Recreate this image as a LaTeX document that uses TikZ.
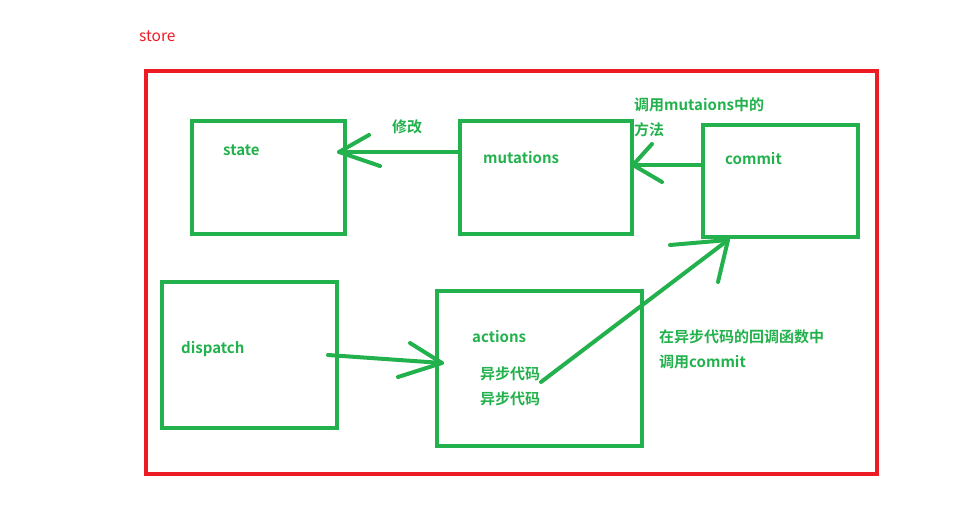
\documentclass[tikz,border=0pt]{standalone}
\usepackage{fontspec}
\setmainfont{Noto Sans CJK SC}[BoldFont={Noto Sans CJK SC Bold}]
\definecolor{gr}{RGB}{34,177,76}
\definecolor{rd}{RGB}{237,28,36}
\begin{document}
\begin{tikzpicture}[x=1pt,y=-1pt,
  box/.style={draw=gr,line width=4pt,rectangle,inner sep=0pt,outer sep=0pt},
  lbl/.style={anchor=west,inner sep=0pt,text=gr,font=\fontsize{15}{16}\selectfont\bfseries},
  conn/.style={draw=gr,line width=4pt,line cap=round,line join=round}]
\useasboundingbox (0,0) rectangle (957,524);
\node[box,draw=rd,minimum width=731pt,minimum height=403pt] (store) at (511.5,272.5) {};
\node[anchor=west,inner sep=0pt,text=rd,font=\fontsize{15.5}{17}\selectfont] (storet) at (139,36) {store};
\node[box,minimum width=153pt,minimum height=113pt] (state) at (268.5,177.5) {};
\node[box,minimum width=172pt,minimum height=113pt] (mut) at (546,177.5) {};
\node[box,minimum width=155pt,minimum height=112pt] (commit) at (780.5,181) {};
\node[box,minimum width=175pt,minimum height=146pt] (disp) at (249.5,355) {};
\node[box,minimum width=205pt,minimum height=155pt] (act) at (539.5,368.5) {};
\node[lbl] (tstate) at (223,150) {state};
\node[lbl] (tmut) at (483,158) {mutations};
\node[lbl] (tcommit) at (725,159) {commit};
\node[lbl] (tdisp) at (181,349) {dispatch};
\node[lbl] (tact) at (472,337) {actions};
\node[lbl] (ty1) at (480,374) {异步代码};
\node[lbl] (ty2) at (480,399) {异步代码};
\node[lbl] (tmod) at (392,127) {修改};
\node[lbl] (tcall1) at (634,105) {调用mutaions中的};
\node[lbl] (tcall2) at (634,130) {方法};
\node[lbl] (tcb1) at (659,337) {在异步代码的回调函数中};
\node[lbl] (tcb2) at (659,362) {调用commit};
% arrow mutations -> state
\coordinate (a1s) at (mut.west |- 0,152);
\coordinate (a1t) at (339,152);
\draw[conn] (a1s) -- (a1t);
\draw[conn] (369,135) -- (a1t) -- (380,166);
% arrow commit -> mutations
\coordinate (a2s) at (commit.west |- 0,165);
\coordinate (a2t) at (633,165);
\draw[conn] (a2s) -- (a2t);
\draw[conn] (652,144) -- (a2t) -- (662,182);
% arrow dispatch -> actions
\coordinate (a3s) at (328,355);
\coordinate (a3t) at (442,363);
\draw[conn] (a3s) -- (a3t);
\draw[conn] (410,343) -- (a3t) -- (398,377);
% arrow actions -> commit
\coordinate (a4s) at (541,382);
\coordinate (a4t) at (728,240);
\draw[conn] (a4s) -- (a4t);
\draw[conn] (670,245) -- (a4t) -- (718,282);
\end{tikzpicture}
\end{document}
